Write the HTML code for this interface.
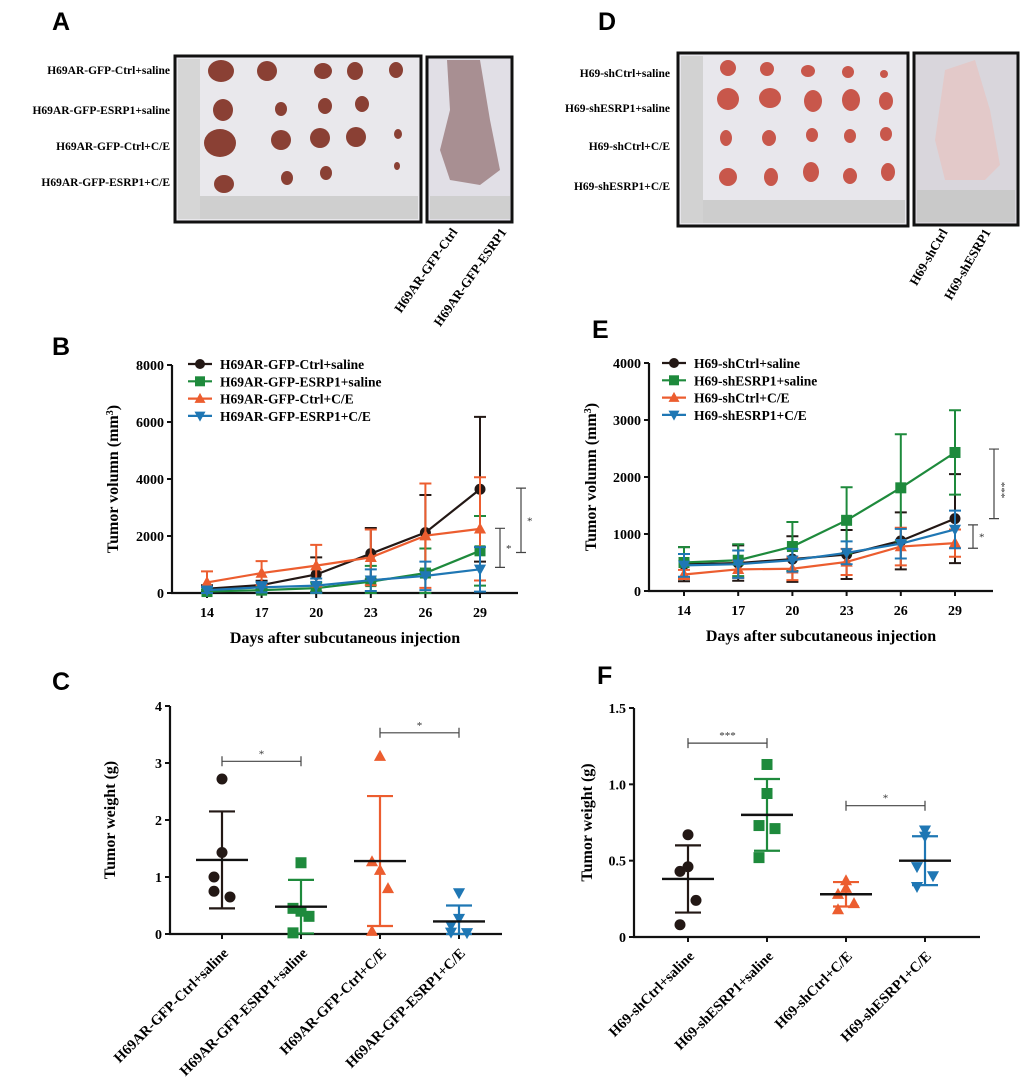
<!DOCTYPE html>
<html><head><meta charset="utf-8"><style>
body{margin:0;background:#fff;}
svg{display:block;font-family:"Liberation Serif",serif;}
.pl{font-family:"Liberation Sans",sans-serif;font-weight:bold;font-size:25px;}
</style></head><body>
<svg id="fig" width="1020" height="1083" viewBox="0 0 1020 1083">
<text class="pl" x="52" y="30">A</text>
<text class="pl" x="598" y="30">D</text>
<text class="pl" x="52" y="355">B</text>
<text class="pl" x="592" y="338">E</text>
<text class="pl" x="52" y="690">C</text>
<text class="pl" x="597" y="684">F</text>

<g>
<rect x="175" y="56" width="246" height="166" fill="#e9e8ec" stroke="#111" stroke-width="3"/>
<rect x="178" y="59" width="22" height="160" fill="#d6d6d6"/>
<rect x="200" y="196" width="218" height="23" fill="#cfcfcf"/>
<g fill="#8a4034">
<ellipse cx="221" cy="71" rx="13" ry="11"/><ellipse cx="267" cy="71" rx="10" ry="10"/><ellipse cx="323" cy="71" rx="9" ry="8"/><ellipse cx="355" cy="71" rx="8" ry="9"/><ellipse cx="396" cy="70" rx="7" ry="8"/>
<ellipse cx="223" cy="110" rx="10" ry="11"/><ellipse cx="281" cy="109" rx="6" ry="7"/><ellipse cx="325" cy="106" rx="7" ry="8"/><ellipse cx="362" cy="104" rx="7" ry="8"/>
<ellipse cx="220" cy="143" rx="16" ry="14"/><ellipse cx="281" cy="140" rx="10" ry="10"/><ellipse cx="320" cy="138" rx="10" ry="10"/><ellipse cx="356" cy="137" rx="10" ry="10"/><ellipse cx="398" cy="134" rx="4" ry="5"/>
<ellipse cx="224" cy="184" rx="10" ry="9"/><ellipse cx="287" cy="178" rx="6" ry="7"/><ellipse cx="326" cy="173" rx="6" ry="7"/><ellipse cx="397" cy="166" rx="3" ry="4"/>
</g></g>
<g>
<rect x="427" y="57" width="85" height="165" fill="#e1dfe6" stroke="#111" stroke-width="3"/>
<path d="M447 60 L480 60 L490 120 L500 170 L480 185 L450 180 L440 150 L450 110 Z" fill="#a88f92"/>
<rect x="430" y="196" width="80" height="23" fill="#cfcfcf"/>
</g>
<g font-weight="bold" font-size="11.5" text-anchor="end">
<text x="170" y="74">H69AR-GFP-Ctrl+saline</text>
<text x="170" y="114">H69AR-GFP-ESRP1+saline</text>
<text x="170" y="150">H69AR-GFP-Ctrl+C/E</text>
<text x="170" y="186">H69AR-GFP-ESRP1+C/E</text>
</g>
<g font-weight="bold" font-size="13" text-anchor="end">
<text transform="translate(458,232) rotate(-55)">H69AR-GFP-Ctrl</text>
<text transform="translate(507,232) rotate(-55)">H69AR-GFP-ESRP1</text>
</g>

<g>
<rect x="678" y="53" width="230" height="173" fill="#e8e7ec" stroke="#111" stroke-width="3"/>
<rect x="681" y="56" width="22" height="167" fill="#d2d2d2"/>
<rect x="703" y="200" width="202" height="23" fill="#cdcdcd"/>
<g fill="#c8574b">
<ellipse cx="728" cy="68" rx="8" ry="8"/><ellipse cx="767" cy="69" rx="7" ry="7"/><ellipse cx="808" cy="71" rx="7" ry="6"/><ellipse cx="848" cy="72" rx="6" ry="6"/><ellipse cx="884" cy="74" rx="4" ry="4"/>
<ellipse cx="728" cy="99" rx="11" ry="11"/><ellipse cx="770" cy="98" rx="11" ry="10"/><ellipse cx="813" cy="101" rx="9" ry="11"/><ellipse cx="851" cy="100" rx="9" ry="11"/><ellipse cx="886" cy="101" rx="7" ry="9"/>
<ellipse cx="726" cy="138" rx="6" ry="8"/><ellipse cx="769" cy="138" rx="7" ry="8"/><ellipse cx="812" cy="135" rx="6" ry="7"/><ellipse cx="850" cy="136" rx="6" ry="7"/><ellipse cx="886" cy="134" rx="6" ry="7"/>
<ellipse cx="728" cy="177" rx="9" ry="9"/><ellipse cx="771" cy="177" rx="7" ry="9"/><ellipse cx="811" cy="172" rx="8" ry="10"/><ellipse cx="850" cy="176" rx="7" ry="8"/><ellipse cx="888" cy="172" rx="7" ry="9"/>
</g></g>
<g>
<rect x="914" y="53" width="104" height="172" fill="#d9d6dc" stroke="#111" stroke-width="3"/>
<path d="M945 70 L975 60 L990 110 L1000 165 L985 180 L945 180 L935 140 Z" fill="#e3c9c9"/>
<rect x="917" y="190" width="98" height="32" fill="#c9c9c9"/>
</g>
<g font-weight="bold" font-size="11.5" text-anchor="end">
<text x="670" y="77">H69-shCtrl+saline</text>
<text x="670" y="112">H69-shESRP1+saline</text>
<text x="670" y="150">H69-shCtrl+C/E</text>
<text x="670" y="190">H69-shESRP1+C/E</text>
</g>
<g font-weight="bold" font-size="13" text-anchor="end">
<text transform="translate(948,232) rotate(-60)">H69-shCtrl</text>
<text transform="translate(991,232) rotate(-60)">H69-shESRP1</text>
</g>
<g id="charts"></g>
</svg>
<script>
// ---- Panel B data ----
const daysB = [14, 17, 20, 23, 26, 29];
const ticksB = [0, 2000, 4000, 6000, 8000];
const namesB = ["H69AR-GFP-Ctrl+saline","H69AR-GFP-ESRP1+saline","H69AR-GFP-Ctrl+C/E","H69AR-GFP-ESRP1+C/E"];
const bBlack = [150, 280, 650, 1380, 2120, 3640];
const bBlackErr = [120, 150, 600, 900, 1320, 2540];
const bGreen = [50, 100, 170, 400, 700, 1480];
const bGreenErr = [60, 120, 200, 550, 860, 1220];
const bOrange = [370, 700, 960, 1250, 2010, 2250];
const bOrangeErr = [390, 420, 730, 980, 1830, 1810];
const bBlue = [100, 200, 260, 450, 600, 830];
const bBlueErr = [100, 180, 250, 380, 500, 780];
// ---- Panel E data ----
const daysE = [14, 17, 20, 23, 26, 29];
const ticksE = [0, 1000, 2000, 3000, 4000];
const namesE = ["H69-shCtrl+saline","H69-shESRP1+saline","H69-shCtrl+C/E","H69-shESRP1+C/E"];
const eBlack = [470, 490, 560, 640, 880, 1270];
const eBlackErr = [300, 310, 400, 430, 500, 780];
const eGreen = [500, 540, 780, 1240, 1810, 2430];
const eGreenErr = [270, 280, 430, 580, 940, 740];
const eOrange = [290, 380, 390, 510, 780, 840];
const eOrangeErr = [80, 150, 200, 230, 330, 240];
const eBlue = [450, 470, 540, 670, 830, 1080];
const eBlueErr = [200, 240, 200, 200, 260, 330];
// ---- Panel C data ----
const catsC = ["H69AR-GFP-Ctrl+saline","H69AR-GFP-ESRP1+saline","H69AR-GFP-Ctrl+C/E","H69AR-GFP-ESRP1+C/E"];
const ticksC = [0, 1, 2, 3, 4];
const cPts1 = [2.72, 1.43, 1.0, 0.65, 0.75];
const cPts2 = [1.25, 0.40, 0.45, 0.31, 0.02];
const cPts3 = [3.12, 1.12, 1.27, 0.80, 0.05];
const cPts4 = [0.72, 0.27, 0.15, 0.02, 0.03];
const cMean = [1.30, 0.48, 1.28, 0.22];
const cSd = [0.85, 0.47, 1.14, 0.28];
// ---- Panel F data ----
const catsF = ["H69-shCtrl+saline","H69-shESRP1+saline","H69-shCtrl+C/E","H69-shESRP1+C/E"];
const ticksF = [0, 0.5, 1.0, 1.5];
const fPts1 = [0.67, 0.46, 0.43, 0.24, 0.08];
const fPts2 = [1.13, 0.94, 0.73, 0.71, 0.52];
const fPts3 = [0.37, 0.32, 0.28, 0.22, 0.18];
const fPts4 = [0.70, 0.66, 0.46, 0.40, 0.33];
const fMean = [0.38, 0.80, 0.28, 0.50];
const fSd = [0.22, 0.235, 0.08, 0.16];

const COLORS = ["#231815", "#1e8a3c", "#ec5d2f", "#1f77b4"];
const SHAPES = ["circle", "square", "tri", "dtri"];
const NS = "http://www.w3.org/2000/svg";
const root = document.getElementById("charts");
function mk(tag, attrs, parent, txt) {
  const e = document.createElementNS(NS, tag);
  for (const k in attrs) e.setAttribute(k, attrs[k]);
  if (txt !== undefined) e.textContent = txt;
  (parent || root).appendChild(e);
  return e;
}
function marker(g, shape, x, y, r, col) {
  let m;
  if (shape === "circle") m = mk("circle", {cx: x, cy: y, r: r, fill: col}, g);
  else if (shape === "square") m = mk("rect", {x: x - r, y: y - r, width: 2 * r, height: 2 * r, fill: col}, g);
  else if (shape === "tri") m = mk("polygon", {points: `${x},${y - r * 1.15} ${x - r * 1.1},${y + r * 0.85} ${x + r * 1.1},${y + r * 0.85}`, fill: col}, g);
  else m = mk("polygon", {points: `${x},${y + r * 1.15} ${x - r * 1.1},${y - r * 0.85} ${x + r * 1.1},${y - r * 0.85}`, fill: col}, g);
  return m;
}
function bracketV(g, x, y1, y2, label) {
  mk("path", {d: `M${x - 5},${y1}H${x + 5}M${x},${y1}V${y2}M${x - 5},${y2}H${x + 5}`, stroke: "#444", "stroke-width": 1.2, fill: "none"}, g);
  mk("text", {x: x + 6, y: (y1 + y2) / 2 + 4, "font-size": 11, fill: "#333", transform: label.length > 1 ? `rotate(90 ${x + 8} ${(y1 + y2) / 2})` : ""}, g, label);
}
function bracketH(g, x1, x2, y, label) {
  mk("path", {d: `M${x1},${y - 5}V${y + 5}M${x1},${y}H${x2}M${x2},${y - 5}V${y + 5}`, stroke: "#444", "stroke-width": 1.2, fill: "none"}, g);
  mk("text", {x: (x1 + x2) / 2, y: y - 4, "font-size": 11, "text-anchor": "middle", fill: "#333"}, g, label);
}
function axesY(g, ax, ticks, sy, x0, x1, title, titleX, fmt) {
  const yMin = sy(ticks[0]), yMax = sy(ticks[ticks.length - 1]);
  mk("line", {x1: ax.x, y1: yMax, x2: ax.x, y2: yMin + 1, stroke: "#111", "stroke-width": 2.2}, g);
  mk("line", {x1: ax.x - 1, y1: yMin, x2: x1, y2: yMin, stroke: "#111", "stroke-width": 2.2}, g);
  ticks.forEach(t => {
    mk("line", {x1: ax.x - 5, y1: sy(t), x2: ax.x, y2: sy(t), stroke: "#111", "stroke-width": 2}, g);
    const tl = mk("text", {x: ax.x - 8, y: sy(t) + 5, "text-anchor": "end", "font-size": 14, "font-weight": "bold"}, g, fmt(t));
    
    
  });
  const yt = mk("text", {transform: `translate(${titleX},${(yMin + yMax) / 2}) rotate(-90)`, "text-anchor": "middle", "font-size": 16, "font-weight": "bold"}, g, title);
  
  
  return yt;
}
function lineChart(id, days, ticks, names, series, errs, geom, sup) {
  const g = mk("g", {});
  
  
  const d0 = days[0], d1 = days[days.length - 1];
  const sx = d => geom.x14 + (d - d0) / (d1 - d0) * (geom.x29 - geom.x14);
  const t0 = ticks[0], t1 = ticks[ticks.length - 1];
  const sy = v => geom.y0 - (v - t0) / (t1 - t0) * (geom.y0 - geom.yTop);
  const yt = axesY(g, {x: geom.ax}, ticks, sy, geom.ax, geom.axEnd, "Tumor volumn (mm", geom.titleX, t => String(t));
  mk("tspan", {"baseline-shift": "super", "font-size": 10}, yt, "3");
  mk("tspan", {}, yt, ")");
  days.forEach(d => {
    mk("line", {x1: sx(d), y1: geom.y0, x2: sx(d), y2: geom.y0 + 5, stroke: "#111", "stroke-width": 2}, g);
    const xl = mk("text", {x: sx(d), y: geom.y0 + 24, "text-anchor": "middle", "font-size": 14, "font-weight": "bold"}, g, String(d));
    
    
  });
  const xt = mk("text", {x: (geom.ax + geom.axEnd) / 2, y: geom.y0 + 50, "text-anchor": "middle", "font-size": 16, "font-weight": "bold"}, g, "Days after subcutaneous injection");
  
  
  series.forEach((s, i) => {
    const sg = mk("g", {}, g);
    
    
    s.forEach((v, j) => {
      const x = sx(days[j]), yu = sy(v + errs[i][j]), yl = sy(Math.max(0, v - errs[i][j]));
      mk("path", {d: `M${x},${yu}V${yl}M${x - 6},${yu}H${x + 6}M${x - 6},${yl}H${x + 6}`, stroke: COLORS[i], "stroke-width": 2, fill: "none"}, sg);
    });
    mk("polyline", {points: s.map((v, j) => sx(days[j]) + "," + sy(v)).join(" "), fill: "none", stroke: COLORS[i], "stroke-width": 2.2}, sg);
    s.forEach((v, j) => {
      const m = marker(sg, SHAPES[i], sx(days[j]), sy(v), 5.5, COLORS[i]);
      
      
    });
  });
  names.forEach((n, i) => {
    const lg = mk("g", {}, g);
    
    
    const y = geom.legY + i * 17.3;
    mk("line", {x1: geom.legX, y1: y, x2: geom.legX + 24, y2: y, stroke: COLORS[i], "stroke-width": 2.2}, lg);
    marker(lg, SHAPES[i], geom.legX + 12, y, 5, COLORS[i]);
    mk("text", {x: geom.legX + 32, y: y + 5, "font-size": 13.5, "font-weight": "bold"}, lg, n);
  });
  sup.forEach(b => bracketV(g, b[0], sy(b[1]), sy(b[2]), b[3]));
}
const JITTER = [0, 0, -8, 8, -8];
function scatterChart(id, cats, ticks, pts, means, sds, geom, sig, fmt) {
  const g = mk("g", {});
  
  
  const sx = i => geom.c0 + i * geom.dc;
  const t0 = ticks[0], t1 = ticks[ticks.length - 1];
  const sy = v => geom.y0 - (v - t0) / (t1 - t0) * (geom.y0 - geom.yTop);
  axesY(g, {x: geom.ax}, ticks, sy, geom.ax, geom.axEnd, "Tumor weight (g)", geom.titleX, fmt);
  cats.forEach((c, i) => {
    mk("line", {x1: sx(i), y1: geom.y0, x2: sx(i), y2: geom.y0 + 5, stroke: "#111", "stroke-width": 2}, g);
    const xl = mk("text", {transform: `translate(${sx(i) + 7},${geom.y0 + 20}) rotate(-45)`, "text-anchor": "end", "font-size": 14.5, "font-weight": "bold"}, g, c);
    
    
  });
  pts.forEach((arr, i) => {
    const sg = mk("g", {}, g);
    
    
    const x = sx(i);
    arr.forEach((v, j) => {
      const m = marker(sg, SHAPES[i], x + JITTER[j], sy(v), 5.5, COLORS[i]);
      
      
    });
    const yu = sy(means[i] + sds[i]), yl = sy(Math.max(0, means[i] - sds[i]));
    mk("path", {d: `M${x},${yu}V${yl}M${x - 13},${yu}H${x + 13}M${x - 13},${yl}H${x + 13}`, stroke: COLORS[i], "stroke-width": 2.2, fill: "none"}, sg);
    mk("line", {x1: x - 26, y1: sy(means[i]), x2: x + 26, y2: sy(means[i]), stroke: "#111", "stroke-width": 2.4}, sg);
  });
  sig.forEach(b => bracketH(g, sx(b[0]), sx(b[1]), sy(b[2]), b[3]));
}
lineChart("chart-b", daysB, ticksB, namesB, [bBlack, bGreen, bOrange, bBlue], [bBlackErr, bGreenErr, bOrangeErr, bBlueErr],
  {ax: 172, axEnd: 518, x14: 207, x29: 480, y0: 593, yTop: 365, titleX: 118, legX: 188, legY: 364},
  [[500, 2270, 900, "*"], [521, 3680, 1420, "*"]]);
lineChart("chart-e", daysE, ticksE, namesE, [eBlack, eGreen, eOrange, eBlue], [eBlackErr, eGreenErr, eOrangeErr, eBlueErr],
  {ax: 649, axEnd: 993, x14: 684, x29: 955, y0: 591, yTop: 363, titleX: 596, legX: 662, legY: 363},
  [[994, 2490, 1270, "***"], [973, 1160, 750, "*"]]);
scatterChart("chart-c", catsC, ticksC, [cPts1, cPts2, cPts3, cPts4], cMean, cSd,
  {ax: 170, axEnd: 502, c0: 222, dc: 79, y0: 934, yTop: 706, titleX: 115}, [[0, 1, 3.03, "*"], [2, 3, 3.53, "*"]], t => String(t));
scatterChart("chart-f", catsF, ticksF, [fPts1, fPts2, fPts3, fPts4], fMean, fSd,
  {ax: 634, axEnd: 980, c0: 688, dc: 79, y0: 937, yTop: 708, titleX: 592}, [[0, 1, 1.27, "***"], [2, 3, 0.86, "*"]], t => t === 0 ? "0" : t.toFixed(1));
</script>
</body></html>
